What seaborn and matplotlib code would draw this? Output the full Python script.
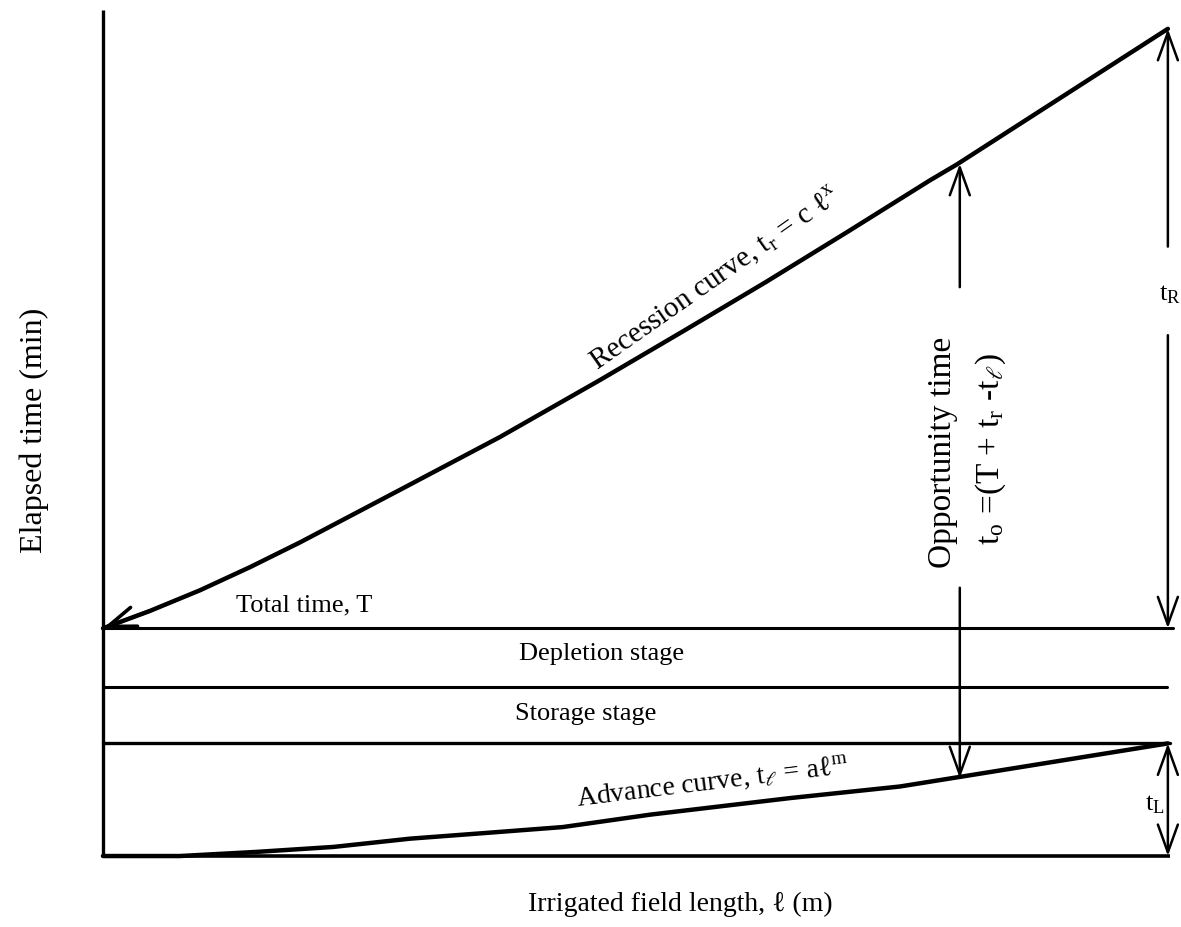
import numpy as np
import pandas as pd
import matplotlib
matplotlib.use("Agg")
import matplotlib.pyplot as plt
import seaborn as sns

# Surface irrigation phases: field length (m) vs elapsed time (min)
recession_x = [0.0, 4.4, 9.1, 13.8, 18.5, 27.8, 37.2, 46.6, 54.4, 62.1, 69.8, 77.5, 80.0, 89.9, 99.8]
recession_t = [27.5, 29.6, 32.1, 34.9, 37.9, 44.2, 50.6, 57.5, 63.4, 69.3, 75.4, 81.6, 83.5, 91.7, 99.9]

advance_x = [0.0, 7.2, 14.4, 21.6, 28.8, 36.0, 43.1, 51.3, 64.4, 74.7, 81.0, 99.8]
advance_t = [0.0, 0.0, 0.5, 1.1, 2.1, 2.8, 3.5, 5.0, 7.0, 8.4, 9.7, 13.6]

field_length = 99.8          # end of the field
total_time = 27.5            # T
depletion_time = 20.4        # boundary between storage and depletion stages
storage_time = 13.6          # end of advance
opportunity_x = 80.3         # where the opportunity time is measured

sns.set_theme(style="white")
plt.rcParams["font.family"] = ["Liberation Serif", "DejaVu Serif"]
plt.rcParams["mathtext.fontset"] = "stix"
plt.rcParams["text.color"] = "black"

fig = plt.figure(figsize=(11.81, 9.27), dpi=100)
ax = fig.add_axes([0, 0, 1, 1])
ax.set_xlim(-9.65, 101.03)
ax.set_ylim(-8.57, 103.38)
ax.axis("off")

k = "black"

# axes drawn as plain lines
ax.plot([0, 0], [0, 102.2], color=k, lw=2.4, solid_capstyle="butt")
ax.plot([0, 100.0], [0, 0], color=k, lw=2.6, solid_capstyle="butt")

# stage boundaries
ax.plot([0, 100.3], [total_time, total_time], color=k, lw=2.2)
ax.plot([0, 99.7], [depletion_time, depletion_time], color=k, lw=2.2)
ax.plot([0, 100.0], [storage_time, storage_time], color=k, lw=2.4)

# recession and advance curves
rec = pd.DataFrame({"x": recession_x, "t": recession_t})
adv = pd.DataFrame({"x": advance_x, "t": advance_t})
sns.lineplot(data=rec, x="x", y="t", sort=False, estimator=None,
             color=k, lw=3.2, ax=ax)
sns.lineplot(data=adv, x="x", y="t", sort=False, estimator=None,
             color=k, lw=3.2, ax=ax)
ax.set_xlabel("")
ax.set_ylabel("")

head = dict(arrowstyle="->,head_length=0.5,head_width=0.18",
            color=k, lw=1.8, shrinkA=0, shrinkB=0, mutation_scale=40)

# arrowhead where recession meets the time axis
ax.annotate("", xy=(recession_x[0], recession_t[0]),
            xytext=(recession_x[1], recession_t[1]),
            arrowprops=dict(head, lw=2.6))

# t_R: from end of T to end of recession
ax.annotate("", xy=(field_length, recession_t[-1]), xytext=(field_length, 73.6),
            arrowprops=head)
ax.annotate("", xy=(field_length, total_time), xytext=(field_length, 62.9),
            arrowprops=head)
ax.text(100.0, 67.8, r"t$_{\mathregular{R}}$", ha="center", va="center",
        fontsize=19)

# t_L: advance time
ax.annotate("", xy=(field_length, storage_time), xytext=(field_length, 0),
            arrowprops=dict(head, arrowstyle="<->,head_length=0.5,head_width=0.18"))
ax.text(98.6, 6.2, r"t$_{\mathregular{L}}$", ha="center", va="center",
        fontsize=19)

# opportunity time between advance and recession
ax.annotate("", xy=(opportunity_x, 83.6), xytext=(opportunity_x, 68.7),
            arrowprops=head)
ax.annotate("", xy=(opportunity_x, 9.4), xytext=(opportunity_x, 32.4),
            arrowprops=head)
ax.text(78.7, 48.8, "Opportunity time", rotation=90, ha="center",
        va="center", fontsize=24)
ax.text(83.2, 49.2, r"t$_{\mathregular{o}}$ =(T + t$_{\mathregular{r}}$ -t$_{\ell}$)",
        rotation=90, ha="center", va="center", fontsize=24)

# stage and curve labels
ax.text(18.9, 30.3, "Total time, T", ha="center", va="center", fontsize=19)
ax.text(46.7, 24.4, "Depletion stage", ha="center", va="center", fontsize=19)
ax.text(45.2, 17.1, "Storage stage", ha="center", va="center", fontsize=19)
ax.text(57.4, 69.8, r"Recession curve, t$_{\mathregular{r}}$ = c ℓ$^{\mathregular{x}}$",
        rotation=35, rotation_mode="anchor", ha="center", va="center",
        fontsize=21)
ax.text(57.1, 8.9, r"Advance curve, t$_{\ell}$ = aℓ$^{\mathregular{m}}$",
        rotation=7, rotation_mode="anchor", ha="center", va="center",
        fontsize=20)

# axis titles
ax.text(-6.4, 51.4, "Elapsed time (min)", rotation=90, ha="center",
        va="center", fontsize=23)
ax.text(54.1, -5.9, "Irrigated field length, ℓ (m)", ha="center",
        va="center", fontsize=20)

fig.savefig("out.png", dpi=100, facecolor="white")
